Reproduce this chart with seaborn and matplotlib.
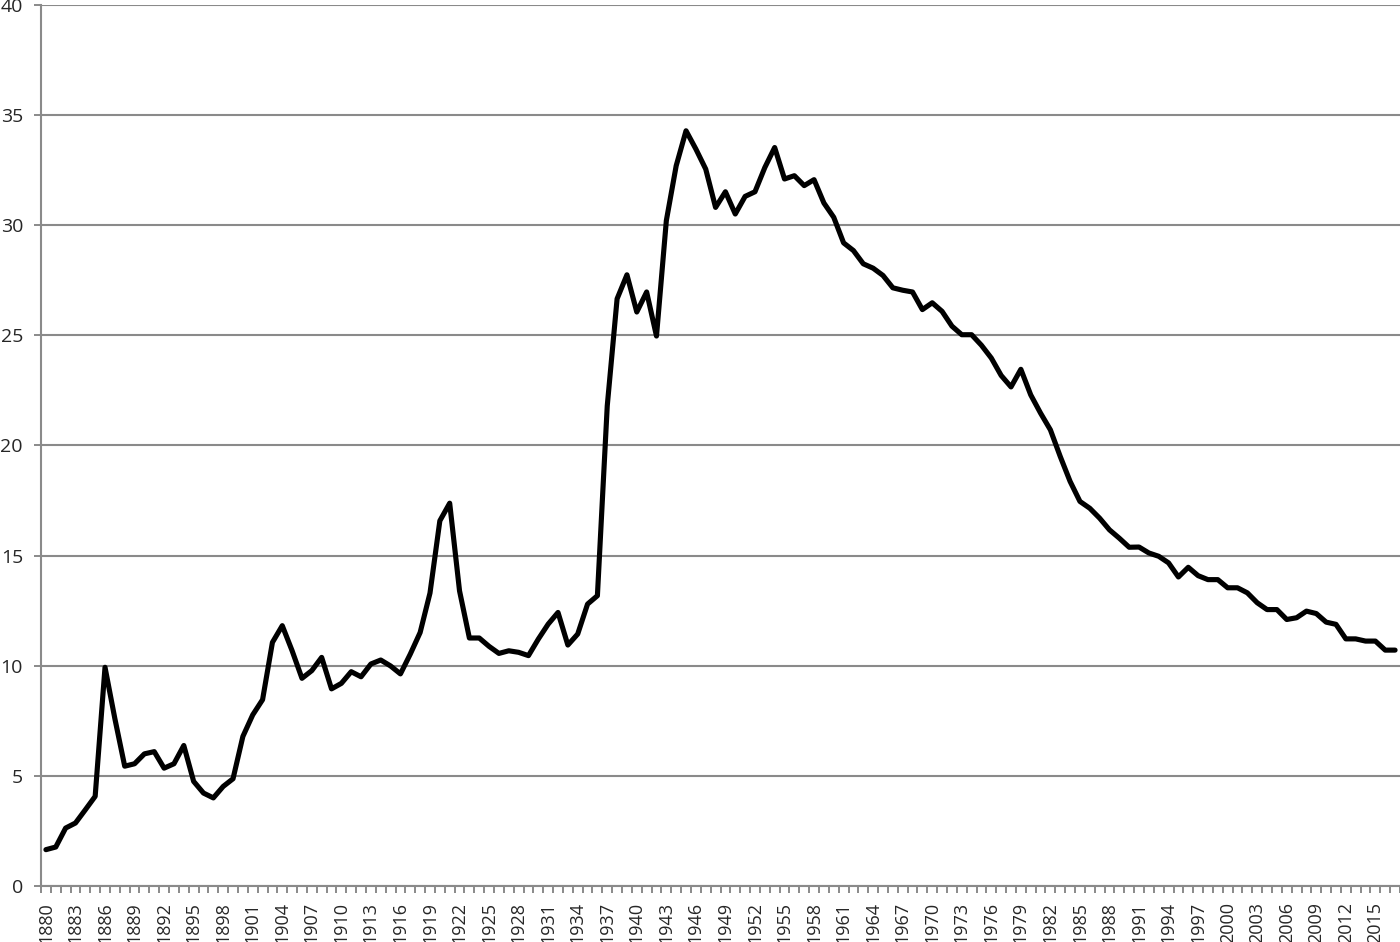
import numpy as np
import pandas as pd
import matplotlib.pyplot as plt
import seaborn as sns
from matplotlib.ticker import FixedLocator

# Yearly series, 1880-2017
years = list(range(1880, 2018))
values = [
    1.65, 1.77, 2.63, 2.86, 3.46, 4.07, 9.93, 7.6, 5.44, 5.55,
    6.0, 6.1, 5.35, 5.55, 6.38, 4.75, 4.22, 4.0, 4.52, 4.87,
    6.79, 7.77, 8.46, 11.06, 11.82, 10.68, 9.43, 9.78, 10.38, 8.95,
    9.2, 9.73, 9.5, 10.08, 10.26, 9.99, 9.63, 10.53, 11.51, 13.3,
    16.58, 17.38, 13.4, 11.26, 11.26, 10.88, 10.56, 10.68, 10.61, 10.46,
    11.21, 11.89, 12.42, 10.94, 11.44, 12.8, 13.18, 21.8, 26.66, 27.75,
    26.06, 26.97, 24.97, 30.21, 32.7, 34.29, 33.46, 32.55, 30.81, 31.52,
    30.51, 31.31, 31.52, 32.62, 33.53, 32.1, 32.25, 31.8, 32.07, 31.01,
    30.36, 29.2, 28.85, 28.25, 28.05, 27.72, 27.16, 27.05, 26.97, 26.17,
    26.48, 26.09, 25.42, 25.03, 25.03, 24.55, 23.97, 23.18, 22.66, 23.46,
    22.3, 21.47, 20.71, 19.5, 18.37, 17.46, 17.15, 16.7, 16.17, 15.79,
    15.38, 15.39, 15.12, 14.97, 14.67, 14.03, 14.47, 14.09, 13.91, 13.91,
    13.54, 13.54, 13.31, 12.86, 12.55, 12.55, 12.1, 12.18, 12.48, 12.37,
    11.98, 11.88, 11.22, 11.22, 11.12, 11.12, 10.71, 10.71,
]
y_ticks = [0, 5, 10, 15, 20, 25, 30, 35, 40]
label_step = 3

sns.set_style("white")
plt.rcParams['font.family'] = ['Open Sans', 'DejaVu Sans']

df = pd.DataFrame({'pos': np.arange(len(years)), 'value': values})

grey = '#8a8a8a'
fig = plt.figure(figsize=(14, 9.42), dpi=100)
ax = fig.add_axes([41 / 1400, 1 - 886 / 942, 1 - 41 / 1400, (886 - 5) / 942])

# gridlines under the line
ax.set_axisbelow(True)
ax.yaxis.grid(True, color=grey, linewidth=1.5)
ax.xaxis.grid(False)

sns.lineplot(data=df, x='pos', y='value', ax=ax, color='black',
             linewidth=3.7, solid_joinstyle='round', solid_capstyle='round',
             clip_on=False)

ax.set_xlim(-0.5, len(years) - 0.5)
ax.set_ylim(0, 40)
ax.set_yticks(y_ticks)
ax.set_yticklabels([str(t) for t in y_ticks])

# category axis: labels every 3rd year, tick marks between categories
label_pos = list(range(0, len(years), label_step))
ax.set_xticks(label_pos)
ax.set_xticklabels([str(years[i]) for i in label_pos], rotation=90, va='top')
ax.xaxis.set_minor_locator(FixedLocator(np.arange(-0.5, len(years), 1.0)))
ax.tick_params(axis='x', which='both', bottom=True)
ax.tick_params(axis='x', which='major', length=0, pad=11.5, labelsize=13)
ax.tick_params(axis='x', which='minor', length=5, width=1.4, color=grey, direction='out')
ax.tick_params(axis='y', which='major', left=True, length=5, width=1.4, color=grey,
               direction='out', pad=8, labelsize=14)

for side in ['top', 'right']:
    ax.spines[side].set_visible(False)
for side in ['left', 'bottom']:
    ax.spines[side].set_color(grey)
    ax.spines[side].set_linewidth(1.5)

ax.set_xlabel('')
ax.set_ylabel('')

fig.savefig('out.png', dpi=100)
plt.close(fig)
